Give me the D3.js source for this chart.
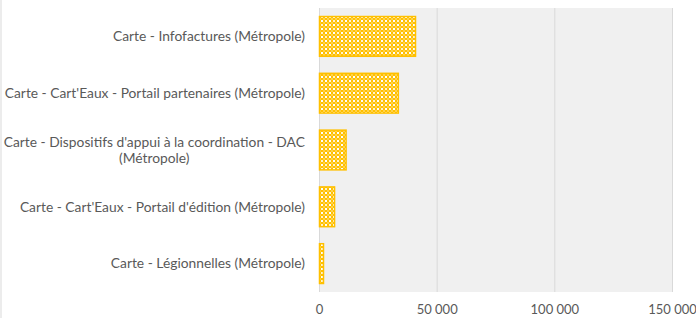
<!DOCTYPE html>
<html>
<head>
<meta charset="utf-8">
<script src="https://cdn.jsdelivr.net/npm/d3@7"></script>
<style>
  body { margin: 0; background: #fff; }
  text { font-family: Lato, sans-serif; fill: #595959; }
</style>
</head>
<body>
<div id="chart"></div>
<script>
var categories = [
  "Carte - Infofactures (Métropole)",
  "Carte - Cart'Eaux - Portail partenaires (Métropole)",
  "Carte - Dispositifs d'appui à la coordination - DAC|(Métropole)",
  "Carte - Cart'Eaux - Portail d'édition (Métropole)",
  "Carte - Légionnelles (Métropole)"
]
var values = [40800, 33500, 11300, 6400, 1700]
var xTicks = [0, 50000, 100000, 150000]

function drawBars(target) { //{{{
  var W = 696, H = 318
  var margin = { top: 8, right: 24, bottom: 26, left: 319 }
  var width = W - margin.left - margin.right,
      height = H - margin.top - margin.bottom

  var x = d3.scaleLinear().domain([0, 150000]).range([0, width])
  var y = d3.scaleBand().domain(categories).range([0, height]).paddingInner(0.3).paddingOuter(0.15)

  var svg = d3.select(target).append("svg")
    .attr("width", W).attr("height", H)

  // hatch pattern, excel style
  var defs = svg.append("defs")
  var pat = defs.append("pattern")
    .attr("id", "hatch")
    .attr("patternUnits", "userSpaceOnUse")
    .attr("width", 8).attr("height", 8)
  pat.append("rect").attr("width", 8).attr("height", 8).attr("fill", "#ffffff")
  for (var i = 0; i < 4; i++) {
    for (var j = 0; j < 4; j++) {
      var col = (i + j) % 2 == 0 ? "#ffc000" : ((i % 2 == 0) ? "#ffd24d" : "#fff2cc")
      if ((i == 1 && j == 2) || (i == 3 && j == 0)) col = "#ffffff"
      pat.append("rect").attr("x", i * 2).attr("y", j * 2)
        .attr("width", 2).attr("height", 2).attr("fill", col)
    }
  }

  // left border
  svg.append("line").attr("x1", 1).attr("x2", 1).attr("y1", 0).attr("y2", H)
    .attr("stroke", "#d9d9d9")

  var g = svg.append("g")
    .attr("transform", "translate(" + margin.left + "," + margin.top + ")")

  g.append("rect").attr("width", width).attr("height", height).attr("fill", "#f0f0f0")

  g.selectAll(".grid").data(xTicks).enter().append("line")
    .attr("class", "grid")
    .attr("x1", d => x(d) + 0.5).attr("x2", d => x(d) + 0.5)
    .attr("y1", 0).attr("y2", height)
    .attr("stroke", "#d9d9d9").attr("stroke-width", 1)

  g.selectAll(".bar").data(values).enter().append("rect")
    .attr("class", "bar")
    .attr("x", x(0) + 0.5)
    .attr("y", (d, i) => y(categories[i]))
    .attr("width", d => x(d))
    .attr("height", y.bandwidth())
    .attr("fill", "url(#hatch)")
    .attr("stroke", "#ffc000")
    .attr("stroke-width", 1.5)

  var xAxis = g.append("g")
    .attr("transform", "translate(0," + height + ")")
    .call(d3.axisBottom(x).tickValues(xTicks).tickSize(0).tickPadding(13)
      .tickFormat(d => d3.format(",")(d).replace(/,/g, " ")))
  xAxis.select(".domain").remove()
  xAxis.selectAll("text").style("font-size", "13px").style("fill", "#595959")
    .style("font-family", "Lato, sans-serif")

  var labels = g.append("g")
  categories.forEach(function(c, i) {
    var lines = c.split("|")
    var cy = y(c) + y.bandwidth() / 2
    var t = labels.append("text")
      .attr("y", cy - (lines.length - 1) * 8)
      .attr("dy", "0.35em")
      .attr("text-anchor", "end")
      .style("font-size", "13.8px")
    lines.forEach(function(l, j) {
      var ts = t.append("tspan").attr("x", -14).text(l)
      if (j > 0) ts.attr("dy", 16)
    })
    if (lines.length > 1) {
      // center the wrapped lines on the widest one
      var w = t.node().getBBox().width
      t.attr("text-anchor", "middle")
      t.selectAll("tspan").attr("x", -14 - w / 2)
    }
  })
} //}}}

drawBars("#chart")
</script>
</body>
</html>
